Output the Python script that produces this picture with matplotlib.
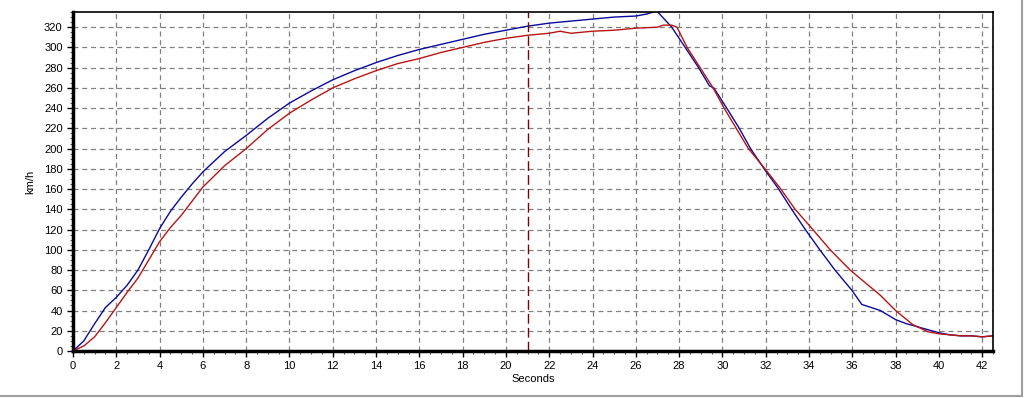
import matplotlib.pyplot as plt
from matplotlib.lines import Line2D
from matplotlib.ticker import MultipleLocator

# blue run (seconds, km/h)
blue_t = [0, 0.5, 1, 1.5, 2, 2.5, 3, 3.5, 4, 4.5, 5, 5.5, 6, 7, 8, 9, 10,
          11, 12, 13, 14, 15, 16, 17, 18, 19, 20, 21, 22, 23, 24, 25, 26,
          26.5, 26.97, 27.66, 28.28, 28.9, 29.4, 29.6, 30.2, 30.78, 31.3,
          31.93, 32.6, 33.2, 33.83, 34.5, 35.2, 35.98, 36.44, 37.3, 38,
          38.5, 39, 39.5, 40, 40.5, 41, 41.5, 42, 42.5]
blue_v = [0, 10, 27, 43, 53, 65, 80, 100, 121, 138, 152, 165, 177, 197, 213,
          230, 245, 257, 268, 277, 285, 292, 298, 303, 308, 313, 317, 321,
          324, 326, 328, 330, 331, 333, 336, 320, 300, 280, 262, 260, 240,
          220, 200, 180, 160, 140, 120, 100, 80, 60, 46, 40, 31, 27, 24,
          21, 18, 16, 15, 15, 14, 15]

# red run (seconds, km/h)
red_t = [0, 0.5, 1, 1.5, 2, 2.5, 3, 3.5, 4, 4.5, 5, 5.5, 6, 7, 8, 9, 10,
         11, 12, 13, 14, 15, 16, 17, 18, 19, 20, 21, 22, 22.5, 23, 24, 25,
         26, 27, 27.26, 27.66, 27.9, 28.37, 28.97, 29.57, 30.08, 30.64,
         31.2, 31.97, 32.7, 33.36, 34.18, 34.98, 35.9, 37.3, 38, 38.8,
         39.5, 40, 40.5, 41, 41.5, 42, 42.5]
red_v = [0, 5, 14, 28, 43, 58, 72, 90, 108, 122, 134, 148, 162, 183, 200,
         219, 235, 248, 260, 269, 277, 284, 289, 295, 300, 305, 309, 312,
         314, 316, 314, 316, 317, 319, 320, 322, 322, 320, 300, 280, 260,
         240, 220, 200, 180, 160, 140, 120, 100, 80, 55, 40, 26, 19, 17,
         16, 15, 15, 14, 15]

marker_t = 21

fig = plt.figure(figsize=(10.24, 3.98), dpi=100)
ax = fig.add_axes([73 / 1024, 47 / 398, 920 / 1024, 339 / 398])

ax.plot(blue_t, blue_v, color="#0a0a9c", lw=1.0)
ax.plot(red_t, red_v, color="#b81414", lw=1.0)
ax.axvline(marker_t, color="#800000", lw=1.0, ls=(0, (7, 3)))

ax.set_xlim(0, 42.5)
ax.set_ylim(0, 335)
ax.xaxis.set_major_locator(MultipleLocator(2))
ax.xaxis.set_minor_locator(MultipleLocator(0.5))
ax.yaxis.set_major_locator(MultipleLocator(20))
ax.yaxis.set_minor_locator(MultipleLocator(5))
ax.grid(True, which="major", color="#808080", ls=(0, (4, 3)), lw=0.9)
ax.set_axisbelow(True)

ax.tick_params(which="major", length=4, width=1, labelsize=8, direction="out")
ax.tick_params(which="minor", length=2, width=0.8, color="#606060", direction="out")
for lab in ax.get_xticklabels() + ax.get_yticklabels():
    lab.set_family("Liberation Sans")

for side in ["left", "bottom"]:
    ax.spines[side].set_linewidth(2.5)
for side in ["top", "right"]:
    ax.spines[side].set_linewidth(1.2)

ax.set_xlabel("Seconds", fontsize=8, family="Liberation Sans", labelpad=2)
ax.set_ylabel("km/h", fontsize=8, family="Liberation Sans", labelpad=6)

# window frame at right and bottom
fig.add_artist(Line2D([1022 / 1024, 1022 / 1024], [2 / 398, 1], color="#a0a0a0", lw=1.5))
fig.add_artist(Line2D([0, 1022 / 1024], [2 / 398, 2 / 398], color="#a0a0a0", lw=1.5))

fig.savefig("out.png", dpi=100)
